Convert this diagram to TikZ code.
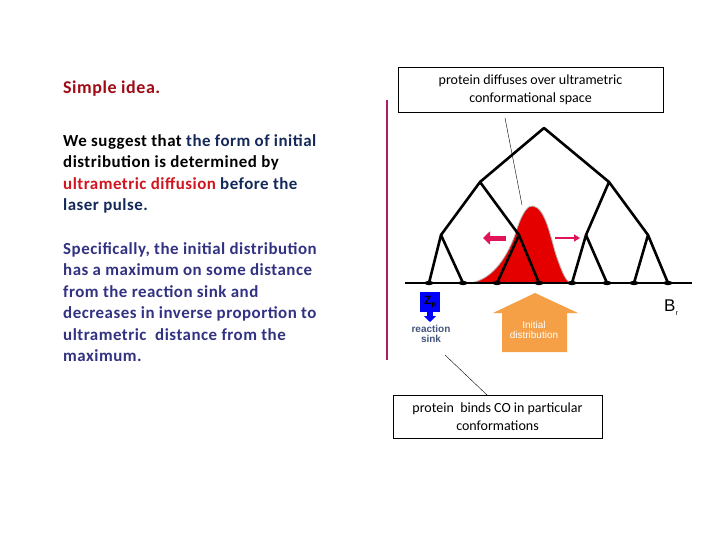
\documentclass[tikz,border=0pt]{standalone}
\usepackage{fontspec}
\setmainfont{Carlito}
\newfontfamily\arialf{Liberation Sans}
\newfontfamily\bodyf[LetterSpace=3]{Carlito}
\usetikzlibrary{arrows.meta}
\definecolor{navy}{RGB}{20,40,90}
\definecolor{indig}{RGB}{50,50,130}
\definecolor{dred}{RGB}{160,10,20}
\definecolor{rred}{RGB}{210,20,30}
\definecolor{mag}{RGB}{170,30,100}
\definecolor{pinkar}{RGB}{225,20,90}
\definecolor{orng}{RGB}{245,160,70}
\begin{document}
\begin{tikzpicture}[x=1pt,y=-1pt,
  tree/.style={line width=2.6pt,line cap=round,line join=round},
  lbox/.style={draw,fill=white,align=center,font=\fontsize{14}{18}\selectfont}]
\useasboundingbox (0,0) rectangle (720,540);
% left text
\node[anchor=west,text=dred,font=\bodyf\bfseries\fontsize{18}{24}\selectfont,inner sep=0pt] (title) at (63,89) {Simple idea.};
\node[anchor=north west,align=left,text=black,font=\bodyf\bfseries\fontsize{16.9}{21.5}\selectfont,inner sep=0pt] (p1) at (63,134)
 {We suggest that \textcolor{navy}{the form of initial}\\distribution is determined by\\\textcolor{rred}{ultrametric diffusion} \textcolor{navy}{before the}\\\textcolor{navy}{laser pulse.}};
\node[anchor=north west,align=left,text=indig,font=\bodyf\bfseries\fontsize{16.9}{21.5}\selectfont,inner sep=0pt] (p2) at (63,242)
 {Specifically, the initial distribution\\has a maximum on some distance\\from the reaction sink and\\decreases in inverse proportion to\\ultrametric\ \ distance from the\\maximum.};
% divider
\draw[mag,line width=2.5pt] (387,100) -- (387,360);
% distribution
\fill[red!90!black,draw=gray!60,line width=0.8pt] (470,283) .. controls (490,280) and (505,262) .. (515,235)
  .. controls (522,212) and (528,205) .. (533,206) .. controls (545,208) and (550,235) .. (556,255)
  .. controls (562,272) and (566,283) .. (572,283) -- cycle;
% tree
\coordinate (r) at (544,128);
\coordinate (a) at (480,182); \coordinate (b) at (609,182);
\coordinate (aa) at (441,235); \coordinate (ab) at (519,235);
\coordinate (ba) at (586,235); \coordinate (bb) at (648,235);
\coordinate (l1) at (429,283); \coordinate (l2) at (463,283);
\coordinate (l3) at (497,283); \coordinate (l4) at (539,283);
\coordinate (l5) at (572,283); \coordinate (l6) at (607,283);
\coordinate (l7) at (634,283); \coordinate (l8) at (668,283);
\draw[tree] (a)--(r)--(b);
\draw[tree] (aa)--(a)--(ab); \draw[tree] (ba)--(b)--(bb);
\draw[tree] (l1)--(aa)--(l2); \draw[tree] (l3)--(ab)--(l4);
\draw[tree] (l5)--(ba)--(l6); \draw[tree] (l7)--(bb)--(l8);
\coordinate (bl) at (405,283); \coordinate (br) at (692,283);
\draw[line width=1.5pt] (bl)--(br);
\foreach \p in {l1,l2,l3,l4,l5,l6,l7,l8} \fill (\p) ellipse (4.5pt and 2.2pt);
% arrows
\coordinate (la1) at (506,238); \coordinate (la2) at (483,238);
\draw[pinkar,line width=5pt,-{Triangle[length=7pt,width=13pt]}] (la1)--(la2);
\coordinate (ra1) at (555,238); \coordinate (ra2) at (580,238);
\draw[pinkar,line width=2.5pt,-{Triangle[length=6pt,width=7pt]}] (ra1)--(ra2);
% Z_p
\node[fill=blue,text=black,font=\arialf\bfseries\fontsize{12}{12}\selectfont,minimum width=20pt,minimum height=20pt,inner sep=0pt] (zp) at (430,302) {Z\raisebox{-2pt}{\scriptsize p}};
\coordinate (zt) at (430,322);
\draw[blue,line width=6pt,-{Triangle[length=6pt,width=12pt]}] (zp.south)--(zt);
\node[text=navy!80,font=\arialf\bfseries\fontsize{10}{10.5}\selectfont,align=center] (rs) at (431,334) {reaction\\sink};
% orange arrow
\fill[orng] (502,352) -- (502,313) -- (493,313) -- (535,293) -- (578,313) -- (567,313) -- (567,352) -- cycle;
\node[text=white,font=\arialf\fontsize{10}{10.5}\selectfont,align=center] (id) at (534,330) {Initial\\distribution};
\node[font=\arialf\fontsize{17}{17}\selectfont] (brn) at (671,308) {B\raisebox{-4pt}{\scriptsize r}};
% boxes
\node[lbox,minimum width=265pt,minimum height=45pt] (top) at (530.5,89.5) {protein diffuses over ultrametric\\conformational space};
\node[lbox,minimum width=209pt,minimum height=43pt] (bot) at (497.5,416.5) {protein\ \ binds CO in particular\\conformations};
\coordinate (tp) at (522,205);
\draw[thin] (505,118) -- (tp);
\coordinate (bs) at (445,355);
\draw[thin] (bs) -- (487,395);
\end{tikzpicture}
\end{document}
